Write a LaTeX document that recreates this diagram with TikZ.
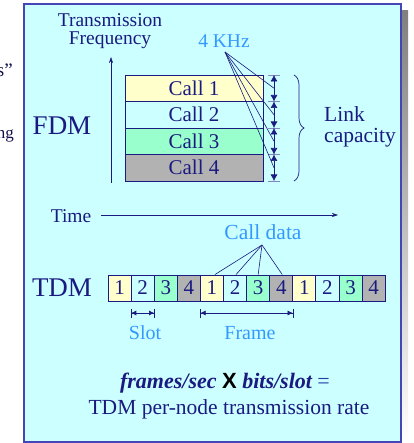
\documentclass[tikz,border=0pt]{standalone}
\usepackage{fontspec}
\setmainfont{Liberation Serif}
\newfontfamily\xsans{Liberation Sans}
\usetikzlibrary{arrows.meta,decorations.pathreplacing,calc}
\definecolor{navy}{HTML}{1A1A80}
\definecolor{lblue}{HTML}{3399FF}
\definecolor{panel}{HTML}{CCFFFF}
\definecolor{frameblue}{HTML}{4545B5}
\definecolor{shade}{HTML}{B2B2B2}
\definecolor{cone}{HTML}{FFFFCC}
\definecolor{cthree}{HTML}{99FFCC}
\definecolor{cfour}{HTML}{B2B2B2}
\definecolor{tick}{HTML}{8585C5}
\newcommand{\fs}[1]{\fontsize{#1}{#1}\selectfont}
\tikzset{
  txt/.style={inner sep=0pt, text=navy},
  ltxt/.style={inner sep=0pt, text=lblue},
  callbox/.style={draw=navy, line width=0.9pt, minimum width=138pt, minimum height=26.5pt, inner sep=0pt, text=navy, font=\fs{21}},
  slotbox/.style={draw=navy, line width=0.9pt, minimum width=23.1pt, minimum height=26pt, inner sep=0pt, text=navy, font=\fs{21}},
  wire/.style={draw=navy, line width=0.6pt},
  dimarrow/.style={draw=navy, line width=0.6pt, {Latex[length=6.5pt,width=7pt]}-{Latex[length=6.5pt,width=7pt]}},
  ticks/.style={draw=tick, line width=0.8pt},
  spanarrow/.style={draw=navy, line width=0.6pt},
}
\begin{document}
\begin{tikzpicture}[x=1pt,y=-1pt]
\useasboundingbox (0,0) rectangle (413,443);
% panel with drop shadow
\fill[shade] (401,11) rectangle (408,443);
\draw[fill=panel, draw=frameblue, line width=2pt] (24,4) rectangle (401,442);

% text of the neighbouring column, cut off at the edge
\node[anchor=base east, inner sep=0pt, text=navy!60!black, font=\fs{19}] (lt1) at (13,77) {s”};
\node[anchor=base east, inner sep=0pt, text=navy!60!black, font=\fs{17}] (lt2) at (14,139) {ng};

% ---------- FDM ----------
\node[txt, font=\fs{19.5}] (freqa) at (110,20) {Transmission};
\node[txt, font=\fs{19.5}] (freqb) at (110,40) {Frequency};
\coordinate (fbot) at (111,183);
\coordinate (ftop) at (111,57);
\draw[spanarrow, -{Stealth[length=6pt,width=4pt]}] (fbot) -- (ftop);
\node[txt, font=\fs{27}] (fdm) at (62,126) {FDM};

\node[callbox, fill=cone]   (c1) at (194,88.25)  {Call 1};
\node[callbox, fill=panel]  (c2) at (194,114.75) {Call 2};
\node[callbox, fill=cthree] (c3) at (194,141.25) {Call 3};
\node[callbox, fill=cfour]  (c4) at (194,167.75) {Call 4};

% bandwidth markers
\foreach \i/\y in {0/75,1/101.5,2/128,3/154.5,4/181}{
  \coordinate (d\i) at (274,\y);
  \draw[ticks] (268,\y) -- (280,\y);
}
\foreach \a/\b in {0/1,1/2,2/3,3/4}{
  \draw[dimarrow] (d\a) -- (d\b);
  \coordinate (m\a) at ($(d\a)!0.5!(d\b)$);
}
\node[ltxt, font=\fs{19.5}] (khz) at (224,41) {4 KHz};
\coordinate (kp) at (225,52);
\foreach \a in {0,1,2,3}{
  \draw[wire] (kp) -- (m\a);
}

\draw[navy, line width=0.7pt, decorate, decoration={brace, amplitude=10pt}] (294,75) -- (294,181);
\node[txt, font=\fs{21.5}, anchor=base west] (link) at (324,122) {Link};
\node[txt, font=\fs{21.5}, anchor=base west] (cap) at (324,143) {capacity};

% ---------- time axis ----------
\node[txt, font=\fs{19.5}] (time) at (71,216) {Time};
\coordinate (tend) at (338,215);
\draw[spanarrow, -{Stealth[length=6pt,width=4pt]}] (101,215) -- (tend);

% ---------- TDM ----------
\node[txt, font=\fs{27}] (tdm) at (62,288) {TDM};
\foreach \i/\n/\c in {1/1/cone,2/2/panel,3/3/cthree,4/4/cfour,5/1/cone,6/2/panel,7/3/cthree,8/4/cfour,9/1/cone,10/2/panel,11/3/cthree,12/4/cfour}{
  \node[slotbox, fill=\c] (s\i) at ({108+23.1*(\i-0.5)},288) {\n};
}
\node[ltxt, font=\fs{21.5}] (cd) at (263,232) {Call data};
\coordinate (cp) at (262,245);
\draw[wire] (cp) -- ([xshift=3pt]s5.north);
\draw[wire] (cp) -- ([xshift=1pt]s6.north);
\draw[wire] (cp) -- ([xshift=0pt]s7.north);
\draw[wire] (cp) -- ([xshift=1pt]s8.north);

\coordinate (sl1) at (s2.west |- 0,313);
\coordinate (sl2) at (s2.east |- 0,313);
\draw[spanarrow, {Bar[width=9pt]Latex[length=5pt,width=5pt]}-{Latex[length=5pt,width=5pt]Bar[width=9pt]}] (sl1) -- (sl2);
\node[ltxt, font=\fs{20}] (slot) at (145,333) {Slot};

\coordinate (fr1) at (s5.west |- 0,313);
\coordinate (fr2) at (s8.east |- 0,313);
\draw[spanarrow, {Bar[width=9pt]Latex[length=5pt,width=5pt]}-{Latex[length=5pt,width=5pt]Bar[width=9pt]}] (fr1) -- (fr2);
\node[ltxt, font=\fs{20}] (frame) at (250,333) {Frame};

% ---------- rate formula ----------
\node[inner sep=0pt, font=\fs{22}] (rate) at (225,383)
  {\textcolor{navy}{\bfseries\itshape frames/sec} {\xsans\bfseries X} \textcolor{navy}{\bfseries\itshape bits/slot} \textcolor{navy!70!lblue}{=}};
\node[txt, font=\fs{21.5}] (rate2) at (229,409) {TDM per-node transmission rate};
\end{tikzpicture}
\end{document}
